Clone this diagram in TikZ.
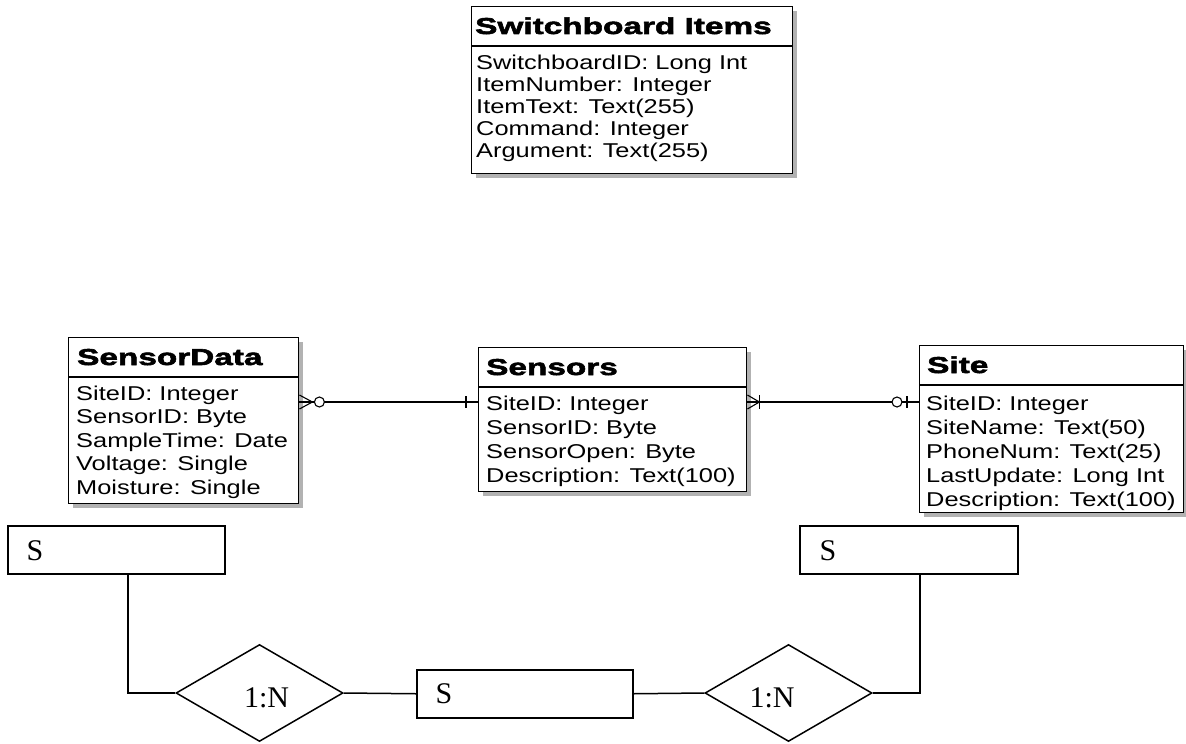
\documentclass[tikz,border=0pt]{standalone}
\usepackage{fontspec}
\setmainfont{Liberation Serif}
\newfontfamily\erbody[FakeStretch=1.27]{Liberation Sans}
\newfontfamily\ertitle[FakeStretch=1.45,BoldFeatures={FakeBold=2.5}]{Liberation Sans}
\usetikzlibrary{shapes.geometric,shadows,calc}
\tikzset{
  ebox/.style={draw=black, line width=1.4pt, fill=white, inner sep=0pt, anchor=north west,
    drop shadow={shadow xshift=4pt, shadow yshift=-4pt, fill=black!30, opacity=1}},
  etitle/.style={anchor=base west, inner sep=0pt, font=\ertitle\bfseries\fontsize{23}{26}\selectfont},
  erow/.style={anchor=base west, inner sep=0pt, font=\erbody\fontsize{20}{24}\selectfont},
  rel/.style={draw=black, line width=1.1pt},
  sbox/.style={draw=black, line width=1.5pt, inner sep=0pt, anchor=north west},
  slabel/.style={inner sep=0pt, font=\fontsize{30}{33}\selectfont},
  rdiam/.style={draw=black, line width=1.5pt, diamond, inner sep=0pt, minimum width=167pt, minimum height=97pt},
  conn/.style={draw=black, line width=1.5pt},
}
\begin{document}
\begin{tikzpicture}[x=1pt,y=-1pt]
\useasboundingbox (0,0) rectangle (1186,744);
% ---------- Switchboard Items ----------
\node[ebox, minimum width=321pt, minimum height=167pt] (sb) at (471,6) {};
\draw[line width=1.4pt] ($(sb.north west)+(0,40)$) -- ($(sb.north east)+(0,40)$);
\node[etitle] (sbt) at (475,34) {Switchboard Items};
\node[erow] (sb1) at (476,69) {SwitchboardID: Long Int};
\node[erow] (sb2) at (476,91) {ItemNumber: Integer};
\node[erow] (sb3) at (476,113) {ItemText: Text(255)};
\node[erow] (sb4) at (476,135) {Command: Integer};
\node[erow] (sb5) at (476,157) {Argument: Text(255)};
% ---------- SensorData ----------
\node[ebox, minimum width=230pt, minimum height=166pt] (sd) at (68,337) {};
\draw[line width=1.4pt] ($(sd.north west)+(0,40)$) -- ($(sd.north east)+(0,40)$);
\node[etitle] (sdt) at (77,365) {SensorData};
\node[erow] (sd1) at (76,400) {SiteID: Integer};
\node[erow] (sd2) at (76,423.5) {SensorID: Byte};
\node[erow] (sd3) at (76,447) {SampleTime: Date};
\node[erow] (sd4) at (76,470.5) {Voltage: Single};
\node[erow] (sd5) at (76,494) {Moisture: Single};
% ---------- Sensors ----------
\node[ebox, minimum width=268pt, minimum height=144pt] (sn) at (478,347) {};
\draw[line width=1.4pt] ($(sn.north west)+(0,40)$) -- ($(sn.north east)+(0,40)$);
\node[etitle] (snt) at (486,375) {Sensors};
\node[erow] (sn1) at (486,410) {SiteID: Integer};
\node[erow] (sn2) at (486,434) {SensorID: Byte};
\node[erow] (sn3) at (486,458) {SensorOpen: Byte};
\node[erow] (sn4) at (486,482) {Description: Text(100)};
% ---------- Site ----------
\node[ebox, minimum width=264pt, minimum height=167pt] (st) at (919,345) {};
\draw[line width=1.4pt] ($(st.north west)+(0,40)$) -- ($(st.north east)+(0,40)$);
\node[etitle] (stt) at (927,373) {Site};
\node[erow] (st1) at (926,410) {SiteID: Integer};
\node[erow] (st2) at (926,434) {SiteName: Text(50)};
\node[erow] (st3) at (926,458) {PhoneNum: Text(25)};
\node[erow] (st4) at (926,482) {LastUpdate: Long Int};
\node[erow] (st5) at (926,506) {Description: Text(100)};
% ---------- ER connectors ----------
\coordinate (a1) at (sd.east |- 0,402);
\coordinate (a2) at (sn.west |- 0,402);
\coordinate (b1) at (sn.east |- 0,402);
\coordinate (b2) at (st.west |- 0,402);
\draw[rel] (a1) -- (a2);
\draw[rel] (a1) ++(13,0) -- ++(-13,-7) ++(13,7) -- ++(-13,7);
\draw[rel, fill=white] (a1) ++(20,0) circle (5pt);
\draw[rel] (a2) ++(-12,-6) -- ++(0,12);
\draw[rel] (b1) -- (b2);
\draw[rel] (b1) ++(12,0) -- ++(-12,-7) ++(12,7) -- ++(-12,7);
\draw[rel] (b1) ++(12,-7) -- ++(0,14);
\draw[rel, fill=white] (b2) ++(-22,0) circle (5pt);
\draw[rel] (b2) ++(-12,-6) -- ++(0,12);
% ---------- lower diagram ----------
\node[sbox, minimum width=217pt, minimum height=48pt] (r1) at (7,525) {};
\node[slabel] (r1t) at (35,551) {S};
\node[sbox, minimum width=216pt, minimum height=48pt] (r2) at (416,669) {};
\node[slabel] (r2t) at (444,694) {S};
\node[sbox, minimum width=218pt, minimum height=48pt] (r3) at (799,525) {};
\node[slabel] (r3t) at (828,551) {S};
\node[rdiam] (d1) at (259.5,693) {};
\node[slabel] (d1t) at (266.5,698) {1:N};
\node[rdiam] (d2) at (788.5,693) {};
\node[slabel] (d2t) at (772,698) {1:N};
\coordinate (k1) at (128,573);
\coordinate (k3) at (920,573);
\draw[conn] (k1) |- (d1.west);
\draw[conn] (d1.east) -- (r2.west);
\draw[conn] (r2.east) -- (d2.west);
\draw[conn] (d2.east) -| (k3);
\end{tikzpicture}
\end{document}
